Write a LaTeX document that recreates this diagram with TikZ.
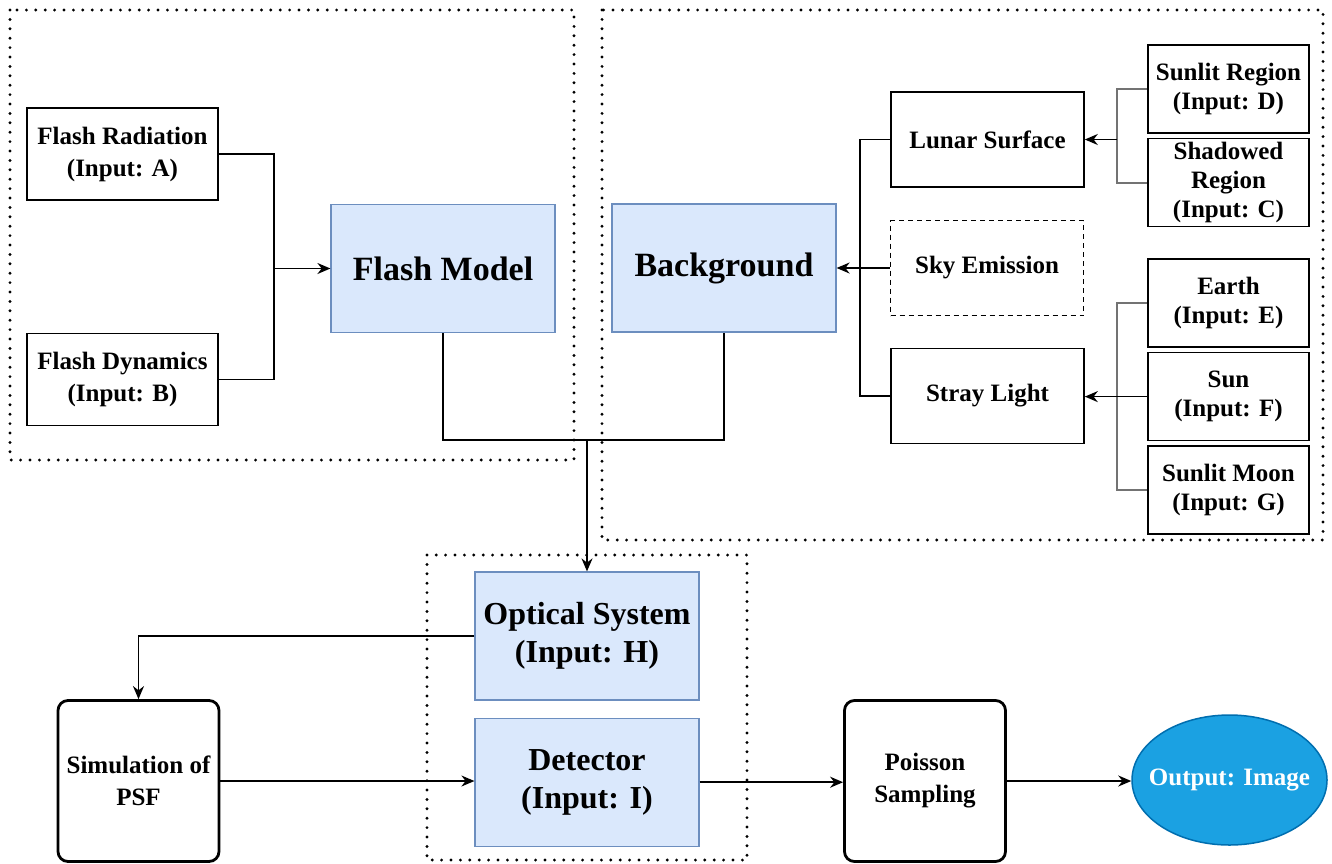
\documentclass[tikz,border=0pt]{standalone}
\usepackage{fontspec}
\setmainfont{Liberation Serif}
\usetikzlibrary{positioning,arrows.meta,shapes.geometric}
\definecolor{blockfill}{HTML}{DAE8FC}
\definecolor{blockline}{HTML}{6C8EBF}
\definecolor{outfill}{HTML}{1BA1E2}
\definecolor{outline}{HTML}{006EAF}

\begin{document}
\begin{tikzpicture}[x=0.5pt, y=-0.5pt, node distance=2pt,
  every node/.style={font=\bfseries\fontsize{12.5}{16}\selectfont, align=center, inner sep=1pt},
  box/.style={draw, line width=0.8pt, minimum width=96.5pt, minimum height=47.5pt},
  inbox/.style={draw, line width=0.8pt, minimum width=80.5pt, minimum height=44pt, font=\bfseries\fontsize{12.5}{14.5}\selectfont},
  block/.style={draw=blockline, fill=blockfill, line width=0.6pt, minimum width=112pt, minimum height=64pt},
  rbox/.style={draw, line width=1.4pt, rounded corners=5pt, minimum width=80.5pt, minimum height=80.5pt},
  grp/.style={line width=1.6pt, dash pattern=on 0pt off 4.7pt, line cap=round},
  link/.style={line width=0.85pt},
  brace/.style={line width=1.1pt, black!55},
  arr/.style={line width=0.85pt, -{Stealth[length=6.5pt,width=5.5pt]}}
]
\useasboundingbox (0,0) rectangle (1332,863);

% Grupos
\draw[grp] (10,10) rectangle (574,460);
\draw[grp] (602,10) rectangle (1323,540);
\draw[grp] (427,555) rectangle (747,860);

% Flash
\node[box, minimum width=95.5pt, minimum height=46pt] (flashrad) at (122.5,154) {Flash Radiation\\(Input: A)};
\node[box, minimum width=95.5pt, minimum height=46pt] (flashdyn) at (122.5,379.5) {Flash Dynamics\\(Input: B)};
\node[block, font=\bfseries\fontsize{17}{20}\selectfont] (flash) at (443,268.5) {Flash Model};

% Fondo
\node[block, font=\bfseries\fontsize{17}{20}\selectfont] (bg) at (724,268) {Background};
\node[box] (lunar) at (987.5,139.5) {Lunar Surface};
\node[box, dash pattern=on 2.5pt off 2pt] (sky) at (987,268) {Sky Emission};
\node[box] (stray) at (987.5,396) {Stray Light};
\node[inbox] (sunlit) at (1228.5,89) {Sunlit Region\\(Input: D)};
\node[inbox, below=of sunlit] (shadow) {Shadowed\\Region\\(Input: C)};
\node[inbox] (earth) at (1228.5,303) {Earth\\(Input: E)};
\node[inbox, below=of earth] (sun) {Sun\\(Input: F)};
\node[inbox, below=of sun] (moon) {Sunlit Moon\\(Input: G)};

% Instrumento
\node[block, font=\bfseries\fontsize{16}{19}\selectfont] (optics) at (587,636) {Optical System\\(Input: H)};
\node[block, font=\bfseries\fontsize{16}{19}\selectfont, below=8.5pt of optics] (det) {Detector\\(Input: I)};
\node[rbox] (psf) at (138.5,781) {Simulation of\\PSF};
\node[rbox] (poisson) at (925,781) {Poisson\\Sampling};
\node[ellipse, draw=outline, fill=outfill, text=white, line width=0.75pt, inner xsep=-10pt, minimum width=97.5pt, minimum height=65pt] (out) at (1229.5,780) {Output: Image};

% Flechas
\coordinate (jflash) at (274,268.5);
\draw[link] (flashrad.east) -| (jflash) |- (flashdyn.east);
\draw[arr] (jflash) -- (flash.west);

\coordinate (jbg) at (860,268);
\draw[link] (lunar.west) -| (jbg) |- (stray.west);
\draw[arr] (sky.west) -- (bg.east |- sky.west);

\coordinate (jlunar) at (1117,139.5);
\draw[brace] (sunlit.west) -| (jlunar) |- (shadow.west);
\draw[arr] (jlunar) -- (lunar.east);

\coordinate (jstray) at (1117,396);
\draw[brace] (earth.west) -| (jstray) |- (moon.west);
\draw[arr] (sun.west) -- (stray.east |- sun.west);

\coordinate (jmerge) at (587,440);
\draw[link] (flash.south) |- (jmerge) -| (bg.south);
\draw[arr] (jmerge) -- (optics.north);

\draw[arr] (optics.west) -| (psf.north);
\foreach \a/\b in {psf/det, det/poisson, poisson/out}
\draw[arr] (\a.east) -- (\b.west |- \a.east);

\end{tikzpicture}
\end{document}
